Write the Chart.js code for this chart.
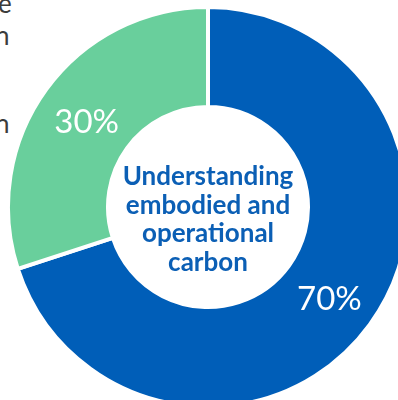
<!DOCTYPE html>
<html>
  <head>
    <script src="https://cdn.jsdelivr.net/npm/chart.js"></script>
    <style>
      html, body {
        margin: 0;
        padding: 0;
        width: 398px;
        height: 400px;
        overflow: hidden;
        background: #ffffff;
        font-family: "Lato", sans-serif;
      }
      .chart-box {
        position: absolute;
        left: 6px;
        top: 5px;
        width: 404px;
        height: 404px;
      }
      .side-text {
        position: absolute;
        color: #3c3c3c;
        font-size: 26px;
        line-height: 26px;
      }
    </style>
  </head>
  <body>
    <span class="side-text" style="left:-2px; top:-10px;">e</span>
    <span class="side-text" style="left:-5px; top:22px;">n</span>
    <span class="side-text" style="left:-5px; top:110px;">n</span>

    <div class="chart-box">
      <canvas id="donutChart" width="404" height="404"></canvas>
    </div>

    <script>
      var labels = ['70%', '30%'];
      var values = [70, 30];
      var colors = ['#005EB8', '#69CF9C'];
      var centerLines = ['Understanding', 'embodied and', 'operational', 'carbon'];

      // percent labels in the middle of each ring segment
      var sliceLabels = {
        id: 'sliceLabels',
        afterDatasetsDraw: function(chart) {
          var ctx = chart.ctx;
          var meta = chart.getDatasetMeta(0);
          ctx.save();
          ctx.fillStyle = '#ffffff';
          ctx.font = '400 33px Lato';
          ctx.textAlign = 'center';
          ctx.textBaseline = 'middle';
          meta.data.forEach(function(arc, i) {
            var pos = arc.tooltipPosition();
            ctx.fillText(labels[i], pos.x, pos.y + 4);
          });
          ctx.restore();
        }
      };

      var centerText = {
        id: 'centerText',
        afterDraw: function(chart) {
          var ctx = chart.ctx;
          var arc = chart.getDatasetMeta(0).data[0];
          ctx.save();
          ctx.fillStyle = '#0B5FB5';
          ctx.font = 'bold 26px Lato';
          ctx.textAlign = 'center';
          ctx.textBaseline = 'alphabetic';
          var lh = 28.7;
          centerLines.forEach(function(line, i) {
            ctx.fillText(line, arc.x, arc.y - 22 + i * lh);
          });
          ctx.restore();
        }
      };

      new Chart(document.getElementById('donutChart').getContext('2d'), {
        type: 'doughnut',
        data: {
          labels: labels,
          datasets: [{
            data: values,
            backgroundColor: colors,
            borderColor: '#ffffff',
            borderWidth: 4
          }]
        },
        options: {
          responsive: false,
          animation: false,
          cutout: '50%',
          layout: { padding: 0 },
          plugins: {
            legend: { display: false },
            tooltip: { enabled: false }
          }
        },
        plugins: [sliceLabels, centerText]
      });
    </script>
  </body>
</html>
